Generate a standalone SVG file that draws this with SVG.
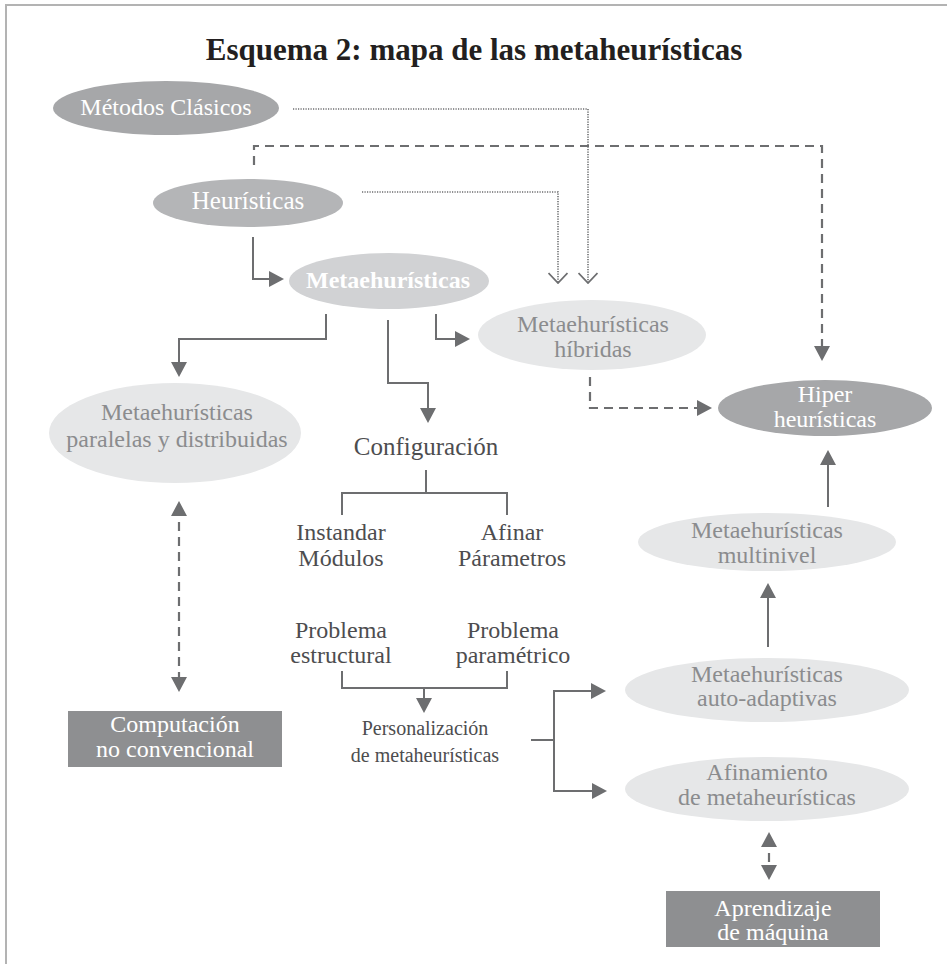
<svg xmlns="http://www.w3.org/2000/svg" width="947" height="964" viewBox="0 0 947 964">
<style>
text{font-family:"Liberation Serif","Times New Roman",serif;text-anchor:middle}
.title{font-size:31px;font-weight:bold;fill:#231f20}
.wt{font-size:24px;fill:#ffffff}
.lt{font-size:24px;fill:#8b8c8e}
.dk{font-size:24px;fill:#4d4d4f}
.sm{font-size:20px;fill:#4d4d4f}
.solid{fill:none;stroke:#6d6e70;stroke-width:2}
.dash{fill:none;stroke:#6d6e70;stroke-width:2.2;stroke-dasharray:9 6}
.dot{fill:none;stroke:#6d6e70;stroke-width:1.6;stroke-dasharray:1.2 1.3}
.dark{fill:#a6a7a9}
.mid{fill:#b4b5b7}
.meta{fill:#d1d2d4}
.light{fill:#e6e7e8}
.box{fill:#8e8f91}
</style>
<defs>
<marker id="ah" viewBox="0 0 15 16" refX="9" refY="8" markerWidth="15" markerHeight="16" markerUnits="userSpaceOnUse" orient="auto-start-reverse">
<path d="M0,0 L15,8 L0,16 z" fill="#6d6e70"/>
</marker>
<marker id="vh" viewBox="0 0 12 20" refX="11" refY="10" markerWidth="12" markerHeight="20" markerUnits="userSpaceOnUse" orient="auto">
<path d="M1,0.5 L11,10 L1,19.5" fill="none" stroke="#6d6e70" stroke-width="1.8"/>
</marker>
</defs>
<g id="frame">
<path d="M6,964 V5 H947" fill="none" stroke="#b3b3b3" stroke-width="2"/>
</g>
<text class="title" x="474" y="60">Esquema 2: mapa de las metaheurísticas</text>
<g id="connectors">
<path class="solid" d="M253,237 V279 H278" marker-end="url(#ah)"/>
<path class="solid" d="M326,314 V339 H179 V371" marker-end="url(#ah)"/>
<path class="solid" d="M388,320 V383 H428 V417" marker-end="url(#ah)"/>
<path class="solid" d="M436,314 V339 H464" marker-end="url(#ah)"/>
<path class="solid" d="M426,470 V493 M342,515 V493 H507 V515"/>
<path class="solid" d="M342,671 V688 H507 V671 M424,688 V707" marker-end="url(#ah)"/>
<path class="solid" d="M531,740 H554 M554,740 V691 H600" marker-end="url(#ah)"/>
<path class="solid" d="M554,740 V791 H601" marker-end="url(#ah)"/>
<path class="solid" d="M768,647 V589" marker-end="url(#ah)"/>
<path class="solid" d="M828,507 V456" marker-end="url(#ah)"/>
<path class="dash" d="M254,165 V146 H822 V355" marker-end="url(#ah)"/>
<path class="dash" d="M590,377 V408 H706" marker-end="url(#ah)"/>
<path class="dash" d="M179,507 V686" marker-start="url(#ah)" marker-end="url(#ah)"/>
<path class="dash" d="M769,838 V874" marker-start="url(#ah)" marker-end="url(#ah)"/>
<path class="dot" d="M293,109 H588 V283" marker-end="url(#vh)"/>
<path class="dot" d="M362,192 H558 V283" marker-end="url(#vh)"/>
</g>
<g id="metodos-clasicos">
<ellipse class="dark" cx="166" cy="108" rx="113" ry="27"/>
<text class="wt" x="166" y="115">Métodos Clásicos</text>
</g>
<g id="heuristicas">
<ellipse class="mid" cx="248" cy="203" rx="95" ry="24"/>
<text class="wt" x="248" y="209" style="font-size:25px">Heurísticas</text>
</g>
<g id="metaheuristicas">
<ellipse class="meta" cx="389" cy="281" rx="100" ry="28"/>
<text class="wt" x="388" y="288" style="font-weight:bold">Metaehurísticas</text>
</g>
<g id="hibridas">
<ellipse class="light" cx="592" cy="335" rx="114" ry="35"/>
<text class="lt" x="593" y="332">Metaehurísticas</text>
<text class="lt" x="593" y="357">híbridas</text>
</g>
<g id="paralelas">
<ellipse class="light" cx="175" cy="433" rx="126" ry="50"/>
<text class="lt" x="177" y="420">Metaehurísticas</text>
<text class="lt" x="177" y="447">paralelas y distribuidas</text>
</g>
<g id="hiper">
<ellipse class="dark" cx="825" cy="408" rx="107" ry="28"/>
<text class="wt" x="825" y="402">Hiper</text>
<text class="wt" x="825" y="427">heurísticas</text>
</g>
<g id="configuracion">
<text class="dk" x="426" y="455" style="font-size:25px">Configuración</text>
</g>
<g id="instandar">
<text class="dk" x="341" y="540">Instandar</text>
<text class="dk" x="341" y="566">Módulos</text>
</g>
<g id="afinar">
<text class="dk" x="512" y="540">Afinar</text>
<text class="dk" x="512" y="566">Párametros</text>
</g>
<g id="problema-estructural">
<text class="dk" x="341" y="638">Problema</text>
<text class="dk" x="341" y="663">estructural</text>
</g>
<g id="problema-parametrico">
<text class="dk" x="513" y="638">Problema</text>
<text class="dk" x="513" y="663">paramétrico</text>
</g>
<g id="personalizacion">
<text class="sm" x="425" y="735">Personalización</text>
<text class="sm" x="425" y="762">de metaheurísticas</text>
</g>
<g id="multinivel">
<ellipse class="light" cx="767" cy="542" rx="129" ry="29"/>
<text class="lt" x="767" y="538">Metaehurísticas</text>
<text class="lt" x="767" y="563">multinivel</text>
</g>
<g id="auto-adaptivas">
<ellipse class="light" cx="767" cy="690" rx="142" ry="32"/>
<text class="lt" x="767" y="682">Metaehurísticas</text>
<text class="lt" x="767" y="706">auto-adaptivas</text>
</g>
<g id="afinamiento">
<ellipse class="light" cx="767" cy="789" rx="142" ry="32"/>
<text class="lt" x="767" y="780">Afinamiento</text>
<text class="lt" x="767" y="805">de metaheurísticas</text>
</g>
<g id="computacion">
<rect class="box" x="68" y="711" width="214" height="56"/>
<text class="wt" x="175" y="732">Computación</text>
<text class="wt" x="175" y="757">no convencional</text>
</g>
<g id="aprendizaje">
<rect class="box" x="666" y="891" width="214" height="56"/>
<text class="wt" x="773" y="916">Aprendizaje</text>
<text class="wt" x="773" y="940">de máquina</text>
</g>
</svg>
